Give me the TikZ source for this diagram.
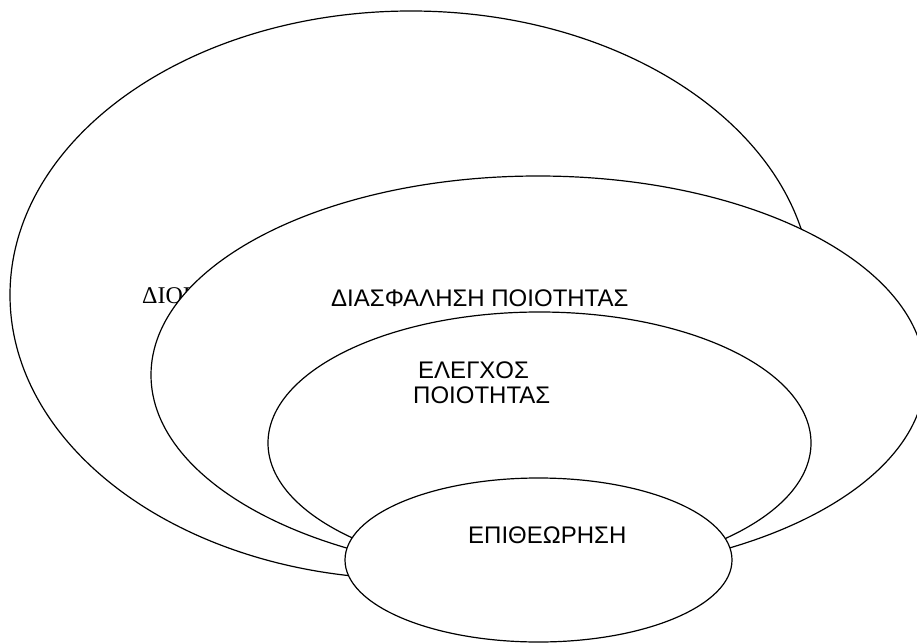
\documentclass[tikz,border=0pt]{standalone}
\usepackage{fontspec}
\setmainfont{Liberation Sans}
\newfontfamily\timesgreek{Liberation Serif}
\usetikzlibrary{shapes.geometric}

\tikzset{
  ring/.style={draw=black, line width=1.2pt, fill=white, ellipse, inner sep=0pt},
  label/.style={anchor=base west, inner sep=0pt, font=\fontsize{24}{27}\selectfont}
}

\begin{document}
\begin{tikzpicture}[x=1pt,y=-1pt]
  \useasboundingbox (0,0) rectangle (917,644);

  % outermost: quality management
  \node[ring, minimum width=802pt, minimum height=568pt] (mgmt) at (411,295) {};
  \node[label, font=\timesgreek\fontsize{24}{27}\selectfont] (mgmtText) at (142,303) {ΔΙΟΙ};

  % quality assurance
  \node[ring, minimum width=774pt, minimum height=398pt] (assure) at (538,375) {};
  \node[label] (assureText) at (331,306) {ΔΙΑΣΦΑΛΗΣΗ ΠΟΙΟΤΗΤΑΣ};

  % quality control
  \node[ring, minimum width=543pt, minimum height=262pt] (control) at (539.5,443) {};
  \node[label] (controlText1) at (418,378) {ΕΛΕΓΧΟΣ};
  \node[label] (controlText2) at (413,403) {ΠΟΙΟΤΗΤΑΣ};

  % inspection
  \node[ring, minimum width=387pt, minimum height=164pt] (inspect) at (538.5,560) {};
  \node[label] (inspectText) at (468,543) {ΕΠΙΘΕΩΡΗΣΗ};
\end{tikzpicture}
\end{document}
